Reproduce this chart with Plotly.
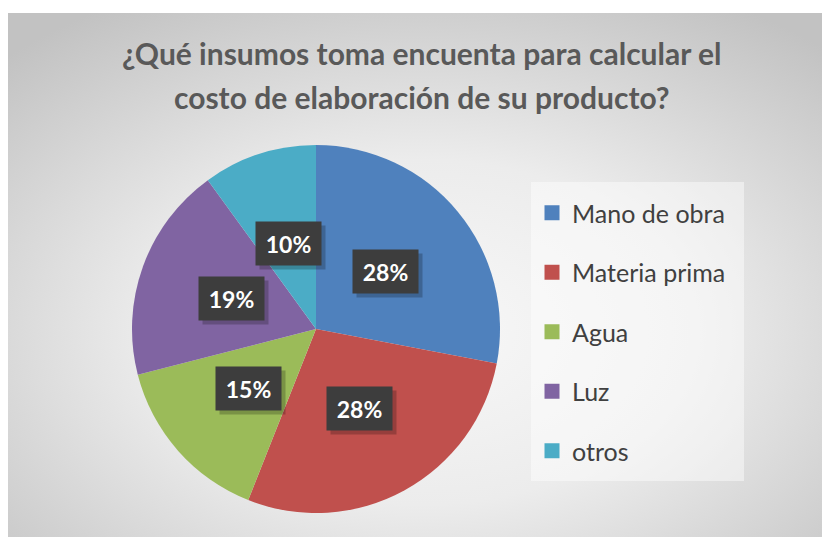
import base64
import math
import plotly.graph_objects as go

# ------------------------------------------------------
# Data
# ------------------------------------------------------

categories = ["Mano de obra", "Materia prima", "Agua", "Luz", "otros"]
values = [28, 28, 15, 19, 10]
colors = ["#4F81BD", "#C0504D", "#9BBB59", "#8064A2", "#4BACC6"]
title_lines = [
    "¿Qué insumos toma encuenta para calcular el",
    "costo de elaboración de su producto?",
]

# ------------------------------------------------------
# Geometry (page pixels; the page body adds an 8px margin)
# ------------------------------------------------------

W, H = 830, 537
OFF = 8
CX, CY, R = 316, 329, 184
FONT = "Lato"


def px(x):
    return (x - OFF) / W


def py(y):
    return 1 - (y - OFF) / H


# radial gradient background for the chart area
svg = (
    '<svg xmlns="http://www.w3.org/2000/svg" width="823" height="524" '
    'viewBox="0 0 823 524" preserveAspectRatio="none">'
    '<defs><radialGradient id="g" cx="0.5" cy="0.6" r="0.72">'
    '<stop offset="0" stop-color="#f8f8f8"/>'
    '<stop offset="0.45" stop-color="#ececec"/>'
    '<stop offset="1" stop-color="#c2c2c2"/>'
    '</radialGradient></defs>'
    '<rect width="823" height="524" fill="url(#g)"/></svg>'
)
bg_src = "data:image/svg+xml;base64," + base64.b64encode(svg.encode()).decode()

fig = go.Figure()

fig.add_trace(
    go.Pie(
        labels=categories,
        values=values,
        marker=dict(colors=colors, line=dict(width=0)),
        sort=False,
        direction="clockwise",
        rotation=0,
        textinfo="none",
        hoverinfo="label+percent",
        showlegend=False,
        domain=dict(x=[px(CX - R), px(CX + R)], y=[py(CY + R), py(CY - R)]),
    )
)

# legend entries
for name, c in zip(categories, colors):
    fig.add_trace(
        go.Scatter(
            x=[None],
            y=[None],
            mode="markers",
            name=name,
            legendgroup=name,
            marker=dict(symbol="square", size=15, color=c),
        )
    )

# data labels (dark boxes with a soft drop shadow)
annotations = []
total = sum(values)
cum = 0
for v in values:
    mid = (cum + v / 2) / total * 2 * math.pi
    cum += v
    lx = CX + 0.49 * R * math.sin(mid)
    ly = CY - 0.49 * R * math.cos(mid)
    pct = "{:.0f}%".format(v / total * 100)
    annotations.append(dict(
        x=px(lx), y=py(ly), xref="paper", yref="paper",
        xanchor="center", yanchor="middle",
        text=" ", showarrow=False, xshift=4, yshift=-4,
        width=63, height=41, bgcolor="rgba(0,0,0,0.22)",
        font=dict(family=FONT, size=23),
    ))
    annotations.append(dict(
        x=px(lx), y=py(ly), xref="paper", yref="paper",
        xanchor="center", yanchor="middle",
        text="<b>" + pct + "</b>", showarrow=False,
        width=63, height=41, bgcolor="#3d3d3d",
        font=dict(family=FONT, size=23, color="white"),
    ))

for line, y in zip(title_lines, [53, 97]):
    annotations.append(dict(
        x=px(422), y=py(y), xref="paper", yref="paper",
        text="<b>" + line + "</b>", showarrow=False,
        xanchor="center", yanchor="middle",
        font=dict(family=FONT, size=30, color="#595959"),
    ))

fig.update_layout(
    width=W,
    height=H,
    margin=dict(l=0, r=0, t=0, b=0),
    paper_bgcolor="white",
    plot_bgcolor="rgba(0,0,0,0)",
    xaxis=dict(visible=False, domain=[0.99, 1]),
    yaxis=dict(visible=False, domain=[0.99, 1]),
    images=[dict(
        source=bg_src, xref="paper", yref="paper",
        x=px(7), y=py(13), sizex=1 - px(7), sizey=py(13),
        xanchor="left", yanchor="top", sizing="stretch", layer="below",
    )],
    shapes=[dict(
        type="rect", xref="paper", yref="paper",
        x0=px(531), x1=px(744), y0=py(481), y1=py(182),
        fillcolor="rgba(255,255,255,0.45)", line=dict(width=0), layer="below",
    )],
    legend=dict(
        x=px(532), y=py(190), xanchor="left", yanchor="top",
        bgcolor="rgba(0,0,0,0)",
        font=dict(family=FONT, size=25, color="#404040"),
        tracegroupgap=24,
        itemclick=False,
    ),
    annotations=annotations,
)

fig.write_html("out.html")
